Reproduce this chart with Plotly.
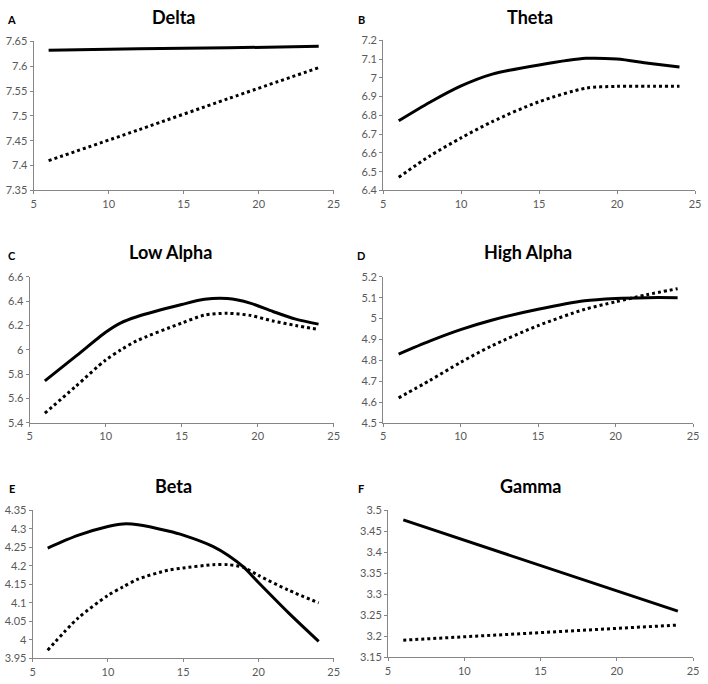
import plotly.graph_objects as go

# ---- data ----
panel_letters = ["A", "B", "C", "D", "E", "F"]
panel_titles = ["Delta", "Theta", "Low Alpha", "High Alpha", "Beta", "Gamma"]

delta_x = [6, 12, 18, 24]
delta_solid = [7.632, 7.635, 7.637, 7.640]
delta_dotted = [7.410, 7.472, 7.535, 7.597]

theta_x = [6, 8, 10, 12, 15, 18, 20, 22, 24]
theta_solid = [6.771, 6.870, 6.957, 7.020, 7.069, 7.104, 7.100, 7.078, 7.058]
theta_dotted = [6.470, 6.584, 6.680, 6.767, 6.873, 6.945, 6.955, 6.955, 6.955]

lowalpha_x = [6, 8, 10, 11, 12, 15, 16.5, 18, 19.5, 21, 22.5, 24]
lowalpha_solid = [5.745, 5.944, 6.145, 6.222, 6.270, 6.372, 6.415, 6.421, 6.384, 6.315, 6.252, 6.211]
lowalpha_dotted = [5.480, 5.697, 5.917, 6.000, 6.072, 6.220, 6.285, 6.300, 6.283, 6.237, 6.200, 6.168]

highalpha_x = [6, 8, 10, 12, 15, 18, 20, 22, 24]
highalpha_solid = [4.830, 4.892, 4.947, 4.992, 5.044, 5.085, 5.096, 5.100, 5.100]
highalpha_dotted = [4.620, 4.703, 4.790, 4.869, 4.966, 5.044, 5.080, 5.114, 5.143]

beta_x = [6, 8, 10, 11, 12, 14, 15, 17, 18, 19, 20, 22, 24]
beta_solid = [4.248, 4.282, 4.306, 4.313, 4.311, 4.294, 4.283, 4.252, 4.228, 4.197, 4.155, 4.073, 3.996]
beta_dotted = [3.972, 4.058, 4.120, 4.143, 4.164, 4.188, 4.194, 4.203, 4.203, 4.196, 4.174, 4.134, 4.100]

gamma_x = [6, 24]
gamma_solid = [3.477, 3.260]
gamma_dotted = [3.191, 3.227]

y_ticks = [
    ["7.35", "7.4", "7.45", "7.5", "7.55", "7.6", "7.65"],
    ["6.4", "6.5", "6.6", "6.7", "6.8", "6.9", "7", "7.1", "7.2"],
    ["5.4", "5.6", "5.8", "6", "6.2", "6.4", "6.6"],
    ["4.5", "4.6", "4.7", "4.8", "4.9", "5", "5.1", "5.2"],
    ["3.95", "4", "4.05", "4.1", "4.15", "4.2", "4.25", "4.3", "4.35"],
    ["3.15", "3.2", "3.25", "3.3", "3.35", "3.4", "3.45", "3.5"],
]
x_ticks = ["5", "10", "15", "20", "25"]

series = [
    (delta_x, delta_solid, delta_dotted),
    (theta_x, theta_solid, theta_dotted),
    (lowalpha_x, lowalpha_solid, lowalpha_dotted),
    (highalpha_x, highalpha_solid, highalpha_dotted),
    (beta_x, beta_solid, beta_dotted),
    (gamma_x, gamma_solid, gamma_dotted),
]

# ---- layout geometry (pixels) ----
W, H = 708, 684
boxes = [  # left, right, top, bottom
    (31, 335, 35, 187),
    (385, 701, 34, 187),
    (27, 335, 275, 424),
    (385, 699, 275, 424),
    (30, 335, 513, 664),
    (390, 699, 513, 663),
]
title_pos = [(173, 10), (534, 10), (170, 250), (532, 250), (173, 488), (534, 488)]
letter_pos = [(9, 13), (363, 13), (9, 253), (363, 253), (9, 491), (363, 491)]

fig = go.Figure()
axis_color = "#868686"
font_family = "Lato, Liberation Sans, sans-serif"
tick_font = dict(family=font_family, size=11, color="#595959")

layout = {}
annotations = []
for i, (xs, ys_solid, ys_dot) in enumerate(series):
    n = "" if i == 0 else str(i + 1)
    xa, ya = "x" + n, "y" + n
    fig.add_trace(go.Scatter(x=xs, y=ys_solid, mode="lines", xaxis=xa, yaxis=ya,
                             line=dict(color="black", width=3, shape="spline", smoothing=0.8),
                             showlegend=False, hoverinfo="skip"))
    fig.add_trace(go.Scatter(x=xs, y=ys_dot, mode="lines", xaxis=xa, yaxis=ya,
                             line=dict(color="black", width=3, dash="3px,3px", shape="spline", smoothing=0.8),
                             showlegend=False, hoverinfo="skip"))
    l, r, t, b = boxes[i]
    yv = [float(s) for s in y_ticks[i]]
    layout["xaxis" + n] = dict(
        domain=[l / W, r / W], anchor=ya, range=[5, 25],
        tickvals=[float(s) for s in x_ticks], ticktext=x_ticks,
        showline=True, linecolor=axis_color, linewidth=1, ticks="outside",
        ticklen=3, tickcolor=axis_color, showgrid=False, zeroline=False,
        tickfont=tick_font, fixedrange=True, ticklabeloverflow="allow",
    )
    layout["yaxis" + n] = dict(
        domain=[1 - b / H, 1 - t / H], anchor=xa, range=[yv[0], yv[-1]],
        tickvals=yv, ticktext=y_ticks[i],
        showline=True, linecolor=axis_color, linewidth=1, ticks="outside",
        ticklen=3, tickcolor=axis_color, showgrid=False, zeroline=False,
        tickfont=tick_font, fixedrange=True, ticklabeloverflow="allow",
    )
    tx, ty = title_pos[i]
    annotations.append(dict(text="<b>" + panel_titles[i] + "</b>", x=tx / W, y=1 - ty / H,
                            xref="paper", yref="paper", showarrow=False,
                            xanchor="center", yanchor="middle",
                            font=dict(family=font_family, size=18, color="black")))
    lx, ly = letter_pos[i]
    annotations.append(dict(text="<b>" + panel_letters[i] + "</b>", x=lx / W, y=1 - ly / H,
                            xref="paper", yref="paper", showarrow=False,
                            xanchor="center", yanchor="middle",
                            font=dict(family=font_family, size=11, color="black")))

fig.update_layout(
    width=W, height=H,
    margin=dict(l=0, r=0, t=0, b=0),
    paper_bgcolor="white", plot_bgcolor="white",
    annotations=annotations,
    **layout,
)

fig.write_html("out.html", config={"displayModeBar": False},
               post_script="document.body.style.margin='0';")
